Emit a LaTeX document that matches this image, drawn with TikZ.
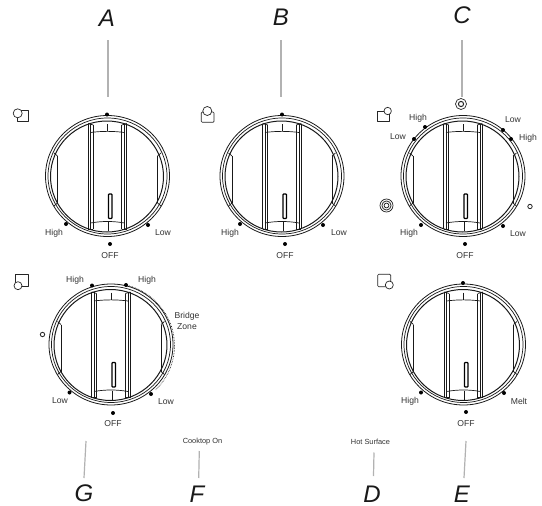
\documentclass[tikz,border=0pt]{standalone}
\usepackage{fontspec}
\setmainfont{Liberation Sans}
\begin{document}
\begin{tikzpicture}[x=1pt,y=-1pt,line join=round,
  letter/.style={font=\itshape\fontsize{24}{24}\selectfont,text=black!90,inner sep=0pt},
  lab/.style={font=\fontsize{8.6}{10}\selectfont,text=black!80,inner sep=0pt,align=center},
  smalllab/.style={font=\fontsize{7.4}{8}\selectfont,text=black!80,inner sep=0pt},
  leader/.style={draw=black!30,line width=1.2pt},
  dotm/.style={circle,fill=black,draw=none,minimum size=4pt,inner sep=0pt},
  ring/.style={draw=black!90,line width=0.7pt},
  icon/.style={draw=black!85,line width=0.7pt},
  knob/.pic={
    \draw[ring,line width=0.8pt] (0,0) ellipse[x radius=62,y radius=60.5];
    \draw[ring] (0,0) ellipse[x radius=59.5,y radius=58];
    \draw[ring,line width=1pt] (-0.5,0.5) ellipse[x radius=56.5,y radius=55.5];
    \foreach \s in {-1,1}{
      \draw[ring,line width=0.9pt] (\s*19.3,-52.5) -- (\s*19.3,53);
      \draw[ring,line width=0.6pt] (\s*17,-52.5) -- (\s*17,53);
      \draw[ring,line width=0.9pt] (\s*14.3,-51) -- (\s*14.3,53);
      \draw[ring] (\s*19.3,-52.5) -- (\s*14.3,-51);
      \draw[ring] (\s*19.3,53) -- (\s*14.3,53);
      \draw[ring,line width=0.9pt] (\s*50,-20) -- (\s*50,27);
      \draw[ring] (\s*50,-20) -- (\s*53.5,-23);
      \draw[ring] (\s*50,27) -- (\s*53.5,30);
    }
    \draw[ring] (-17,-43.5) .. controls (-6,-45) and (6,-45) .. (17,-43.5);
    \draw[ring] (-17,47) .. controls (-6,45) and (6,45) .. (17,47);
    \draw[ring] (0,-52) -- (0,-45);
    \draw[ring] (1,46) -- (1,55);
    \draw[draw=black,line width=1.3pt,rounded corners=0.8pt] (1,18) rectangle (4.5,42.5);
  }]
\useasboundingbox (0,0) rectangle (542,506);
\fill[white] (0,0) rectangle (542,506);

% knobs
\pic at (107.5,176) {knob};
\pic at (282,176) {knob};
\pic at (463,176) {knob};
\pic at (111,344.5) {knob};
\pic at (463.5,344.5) {knob};

% letters
\node[letter] (lA) at (107,18) {A};
\node[letter] (lB) at (281,17) {B};
\node[letter] (lC) at (462,15) {C};
\node[letter] (lG) at (84,493) {G};
\node[letter] (lF) at (197,494) {F};
\node[letter] (lD) at (372,494) {D};
\node[letter] (lE) at (462,494) {E};

% leaders
\coordinate (eA) at (108,97);
\coordinate (eB) at (281,97);
\coordinate (eC) at (462,97);
\coordinate (eG) at (86,441);
\coordinate (eF) at (199.3,451);
\coordinate (eD) at (374,452.5);
\coordinate (eE) at (466,441);
\draw[leader] (108,40) -- (eA);
\draw[leader] (281,40) -- (eB);
\draw[leader] (462,40) -- (eC);
\draw[leader] (84,478) -- (eG);
\draw[leader] (198.7,478) -- (eF);
\draw[leader] (373.5,476) -- (eD);
\draw[leader] (464,478) -- (eE);

% knob A marks
\node[dotm] (a1) at (107,114.5) {};
\node[dotm] (a2) at (66,224) {};
\node[dotm] (a3) at (148,225) {};
\node[dotm] (a4) at (110,244) {};
\node[lab] (a5) at (54,233) {High};
\node[lab] (a6) at (163,233) {Low};
\node[lab] (a7) at (110,256) {OFF};

% knob B marks
\node[dotm] (b1) at (282,114.5) {};
\node[dotm] (b2) at (240,224) {};
\node[dotm] (b3) at (323,225) {};
\node[dotm] (b4) at (285,244) {};
\node[lab] (b5) at (230,233) {High};
\node[lab] (b6) at (339,233) {Low};
\node[lab] (b7) at (285,256) {OFF};

% knob C marks
\node[dotm] (c1) at (425,127) {};
\node[dotm] (c2) at (414,139) {};
\node[dotm] (c3) at (503,130) {};
\node[dotm] (c4) at (511,139) {};
\node[dotm] (c5) at (421,225) {};
\node[dotm] (c6) at (503,226) {};
\node[dotm] (c7) at (465,244) {};
\node[lab] (c8) at (418,118) {High};
\node[lab] (c9) at (398,137) {Low};
\node[lab] (c10) at (513,120) {Low};
\node[lab] (c11) at (528,138) {High};
\node[lab] (c12) at (409,233) {High};
\node[lab] (c13) at (518,234) {Low};
\node[lab] (c14) at (465,256) {OFF};
\draw[icon] (461,104) circle[radius=5.5];
\draw[icon,line width=1pt] (461,104) circle[radius=2.6];
\draw[icon] (386.5,205.5) circle[radius=6.5];
\draw[icon,line width=0.8pt] (386.5,205.5) circle[radius=4.6];
\draw[icon,line width=0.8pt] (386.5,205.5) circle[radius=2.4];
\draw[icon,line width=0.8pt] (530,206.5) circle[radius=2.2];

% knob G marks
\node[dotm] (g1) at (92,285.5) {};
\node[dotm] (g2) at (126,285) {};
\node[dotm] (g3) at (69.5,392.5) {};
\node[dotm] (g4) at (151,394) {};
\node[dotm] (g5) at (113,413) {};
\node[lab] (g6) at (75,280) {High};
\node[lab] (g7) at (147,280) {High};
\node[lab] (g8) at (60,401) {Low};
\node[lab] (g9) at (166,402) {Low};
\node[lab] (g10) at (113,424) {OFF};
\node[lab] (g11) at (187,321) {Bridge\\[1pt]Zone};
\draw[icon,line width=0.8pt] (42.5,334.5) circle[radius=2.2];
\draw[black,line width=0.6pt,densely dotted] (g2.center) arc[start angle=-76,end angle=45,x radius=64,y radius=62.5];

% knob E marks
\node[dotm] (e1) at (463,283) {};
\node[dotm] (e2) at (421,392.5) {};
\node[dotm] (e3) at (504,393) {};
\node[dotm] (e4) at (466,412) {};
\node[lab] (e5) at (410,401) {High};
\node[lab] (e6) at (519,401) {Melt};
\node[lab] (e7) at (466,424) {OFF};

% zone icons
\draw[icon] (17.5,110) rectangle (28,121);
\draw[icon,fill=white] (17.7,113.3) circle[radius=4.5];
\draw[icon,rounded corners=1pt] (201.3,112) rectangle (214,122.3);
\draw[icon,fill=white] (207.3,111) circle[radius=4.5];
\draw[icon] (377,111) rectangle (389,121.7);
\draw[icon,fill=white] (387.7,111) circle[radius=3.7];
\draw[icon] (15.7,274.3) rectangle (28.3,286.7);
\draw[icon,fill=white] (18,285.7) circle[radius=4];
\draw[icon,rounded corners=1pt] (377.7,274.3) rectangle (390.7,286.7);
\draw[icon,fill=white] (389.3,285) circle[radius=4];

% light labels
\node[smalllab] (f1) at (202.5,441.5) {Cooktop On};
\node[smalllab] (d1) at (370.5,442.3) {Hot Surface};
\end{tikzpicture}
\end{document}
